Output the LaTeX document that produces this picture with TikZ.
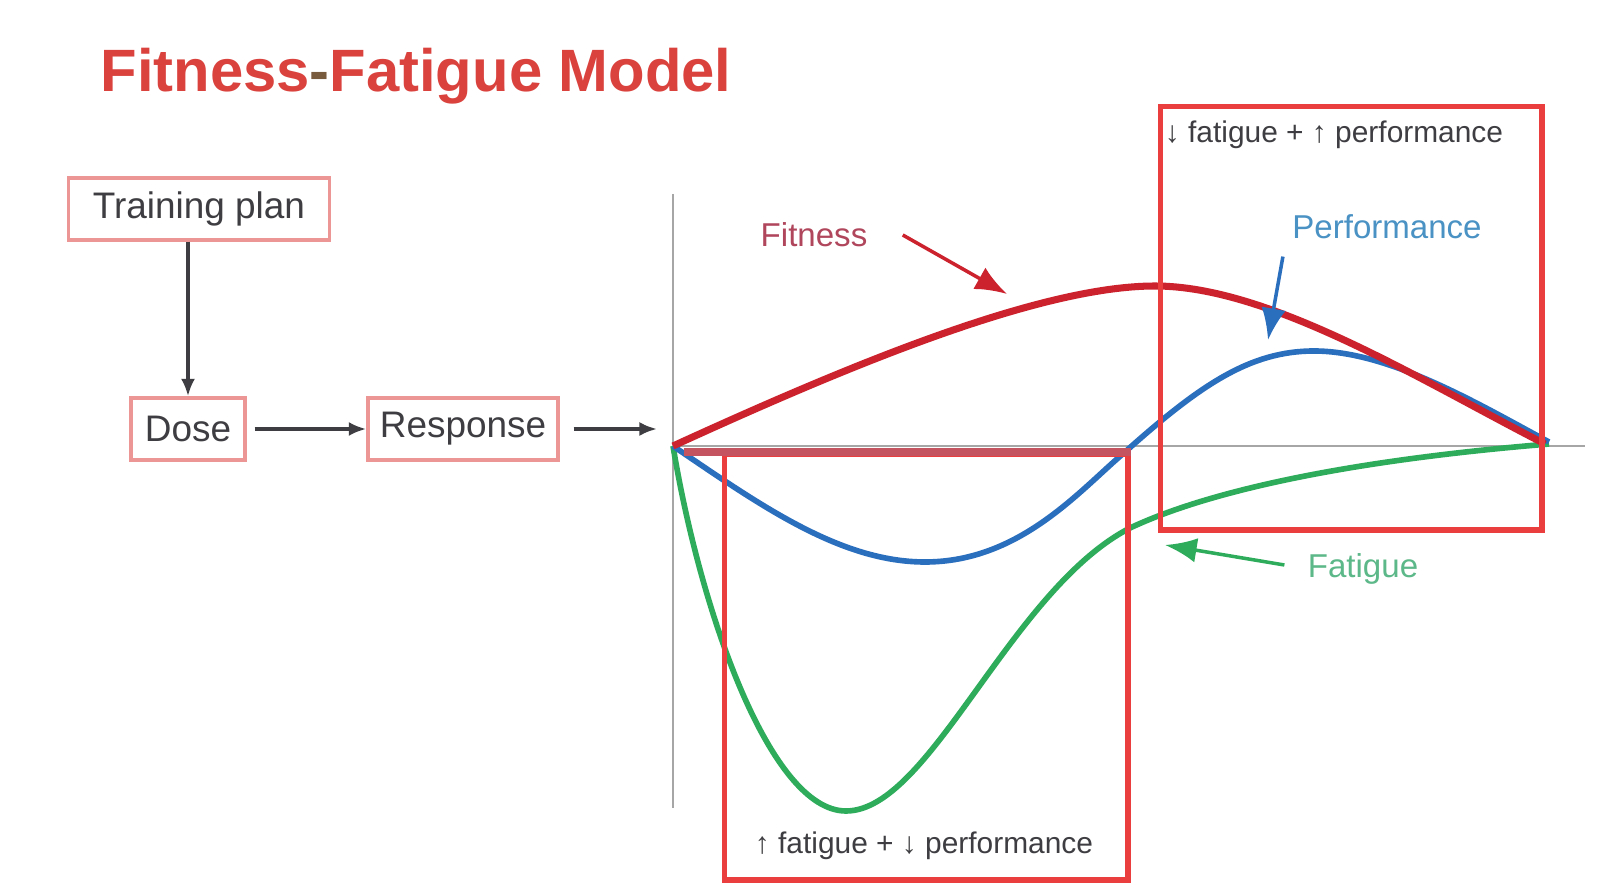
\documentclass[tikz,border=0pt]{standalone}
\usepackage{fontspec}
\setmainfont{Liberation Sans}
\usetikzlibrary{arrows.meta}

\definecolor{titlered}{RGB}{218,66,62}
\definecolor{titledash}{RGB}{120,90,60}
\definecolor{boxred}{RGB}{234,62,62}
\definecolor{edgered}{RGB}{196,84,96}
\definecolor{pinkline}{RGB}{236,150,150}
\definecolor{darktext}{RGB}{62,62,66}
\definecolor{fitred}{RGB}{204,34,46}
\definecolor{perfblue}{RGB}{42,110,190}
\definecolor{fatgreen}{RGB}{46,172,92}
\definecolor{fitlabel}{RGB}{176,70,92}
\definecolor{perflabel}{RGB}{74,146,196}
\definecolor{fatlabel}{RGB}{92,184,136}

\begin{document}
\begin{tikzpicture}[
                x=0.01cm, y=-0.01cm,
                line width=1pt,
                flowbox/.style={draw=pinkline,line width=0.9pt,text=darktext,
                    font=\fontsize{10.5}{12}\selectfont,minimum height=0.62cm,inner xsep=2pt},
                curvelabel/.style={font=\fontsize{9.4}{11}\selectfont},
                phaselabel/.style={font=\fontsize{8.5}{10}\selectfont,text=darktext}] %

\fill[white] (0,0) rectangle (1603,892);
\useasboundingbox (0,0) rectangle (1603,892);

% title
                    \node[anchor=base west,text=titlered,font=\fontsize{17}{20}\selectfont\bfseries] (TITLE) at (87,92) {Fitness{\color{titledash}-}Fatigue Model};

% flow on the left

                    % 1
                    \node[flowbox,minimum width=2.61cm] (PLAN) at (199,209) {Training plan};
                    % 2
                    \node[flowbox,minimum width=1.14cm] (DOSE) at (188,429) {Dose};
                    % 3
                    \node[flowbox,minimum width=1.9cm] (RESP) at (463,429) {Response};
                    \coordinate (RIN) at (657,429);

                    \path [darktext, -{Latex[length=5pt,width=4pt]}] (PLAN.south -| DOSE.north) edge (DOSE.north);
                    \path [darktext, -{Latex[length=5pt,width=4pt]}] (DOSE.east) ++(8,0) edge (RESP.west);
                    \path [darktext, -{Latex[length=5pt,width=4pt]}] (RESP.east) ++(14,0) edge (RIN);

% axes
                    \coordinate (O) at (673,446);
                    \draw[gray!70, line width=0.7pt] (673,194) -- (673,808);
                    \draw[gray!70, line width=0.7pt] (O) -- (1585,446);

% curves
                    \draw[fatgreen, line width=1.6pt] (O) .. controls (700,610) and (770,811) .. (846,811)
                        .. controls (930,811) and (1010,590) .. (1130,528)
                        .. controls (1200,495) and (1330,462) .. (1549,444);
                    \draw[perfblue, line width=1.6pt] (O) .. controls (760,505) and (840,562) .. (925,562)
                        .. controls (1020,562) and (1080,490) .. (1125,452)
                        .. controls (1200,385) and (1250,351) .. (1314,351)
                        .. controls (1390,351) and (1480,405) .. (1549,442);
                    \draw[fitred, line width=2pt] (O) .. controls (850,365) and (1040,286) .. (1155,286)
                        .. controls (1270,286) and (1420,380) .. (1545,444);

% phase boxes
                    \node[draw=boxred,line width=1.5pt,minimum width=4.03cm,minimum height=4.25cm,anchor=north west] (LOW) at (722,452) {};
                    \draw[edgered, line width=2.2pt] (684,452) -- (LOW.north east);
                    \node[draw=boxred,line width=1.5pt,minimum width=3.81cm,minimum height=4.23cm,anchor=north west] (HIGH) at (1158,104) {};
                    \node[phaselabel] (LOWTXT) at (924,846) {↑ fatigue + ↓ performance};
                    \node[phaselabel] (HIGHTXT) at (1334,135) {↓ fatigue + ↑ performance};

% curve labels
                    \node[curvelabel,text=fitlabel] (FIT) at (814,235) {Fitness};
                    \coordinate (FITPT) at (1007,294);
                    \path [fitred, -{Latex[length=9pt,width=7pt]}] (FIT.east) ++(22,0) edge (FITPT);

                    \node[curvelabel,text=perflabel] (PERF) at (1387,227) {Performance};
                    \coordinate (PERFPT) at (1268,340);
                    \path [perfblue, -{Latex[length=9pt,width=7pt]}] (PERF.south west) ++(4,4) edge (PERFPT);

                    \node[curvelabel,text=fatlabel] (FAT) at (1363,569) {Fatigue};
                    \coordinate (FATPT) at (1165,545);
                    \path [fatgreen, -{Latex[length=9pt,width=7pt]}] (FAT.west) ++(-10,-4) edge (FATPT);

%%%%%%%%%%%%%%%%%%%%%%%%%%%%%%%%%%%%%%%%%%%%%%%%%%%%%%%%%%%%%%%%%%%%%%%%%%%%%%%%%%%%


\end{tikzpicture}
\end{document}
